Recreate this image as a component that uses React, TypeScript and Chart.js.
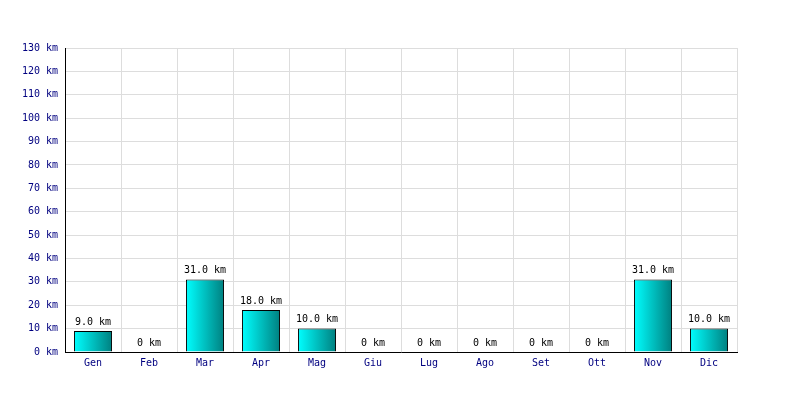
import React, { useEffect, useRef } from "react";
import { Chart, registerables } from "chart.js";

Chart.register(...registerables);

const months = ["Gen", "Feb", "Mar", "Apr", "Mag", "Giu", "Lug", "Ago", "Set", "Ott", "Nov", "Dic"];
const distances = [9, 0, 31, 18, 10, 0, 0, 0, 0, 0, 31, 10];
const yMax = 130;
const yStep = 10;
const unit = "km";

const FONT = "'DejaVu Sans Mono', monospace";

const valueLabels = {
  id: "valueLabels",
  afterDatasetsDraw(chart: any) {
    const ctx = chart.ctx;
    const meta = chart.getDatasetMeta(0);
    ctx.save();
    ctx.font = `10px ${FONT}`;
    ctx.fillStyle = "#000";
    ctx.textAlign = "center";
    ctx.textBaseline = "bottom";
    meta.data.forEach((el: any, i: number) => {
      const v = distances[i];
      const txt = v === 0 ? `0 ${unit}` : `${v.toFixed(1)} ${unit}`;
      ctx.fillText(txt, el.x, el.y - 4);
    });
    ctx.restore();
  },
};

export default function App() {
  const ref = useRef<HTMLCanvasElement>(null);
  useEffect(() => {
    document.body.style.margin = "0";
    const canvas = ref.current!;
    const chart = new Chart(canvas, {
      type: "bar",
      data: {
        labels: months,
        datasets: [
          {
            data: distances,
            backgroundColor: (c: any) => {
              const ch = c.chart;
              const xs = ch.scales?.x;
              if (!xs || c.dataIndex === undefined) return "#00c0c0";
              const cx = xs.getPixelForValue(c.dataIndex);
              const w = (xs.width / months.length) * 0.68;
              if (!isFinite(cx) || !isFinite(w) || w <= 0) return "#00c0c0";
              const g = ch.ctx.createLinearGradient(cx - w / 2, 0, cx + w / 2, 0);
              g.addColorStop(0, "#00ffff");
              g.addColorStop(1, "#008080");
              return g;
            },
            borderColor: "#000",
            borderWidth: 1,
            barPercentage: 0.68,
            categoryPercentage: 1,
          },
        ],
      },
      options: {
        responsive: false,
        animation: false,
        layout: { padding: { left: 0, right: 63, top: 48, bottom: 0 } },
        plugins: { legend: { display: false }, tooltip: { enabled: false } },
        scales: {
          x: {
            grid: { color: "#dddddd", drawTicks: false, offset: true },
            border: { color: "#000", width: 1 },
            ticks: { color: "#000080", font: { family: FONT, size: 10 }, padding: 5 },
            afterFit: (s: any) => {
              s.height = 48;
            },
          },
          y: {
            min: 0,
            max: yMax,
            grid: { color: "#dddddd", drawTicks: false },
            border: { color: "#000", width: 1 },
            ticks: {
              stepSize: yStep,
              color: "#000080",
              font: { family: FONT, size: 10 },
              padding: 7,
              callback: (v: any) => `${v} ${unit}`,
            },
            afterFit: (s: any) => {
              s.width = 65;
            },
          },
        },
      },
      plugins: [valueLabels],
    });
    return () => chart.destroy();
  }, []);
  return <canvas ref={ref} width={800} height={400} style={{ display: "block" }} />;
}
